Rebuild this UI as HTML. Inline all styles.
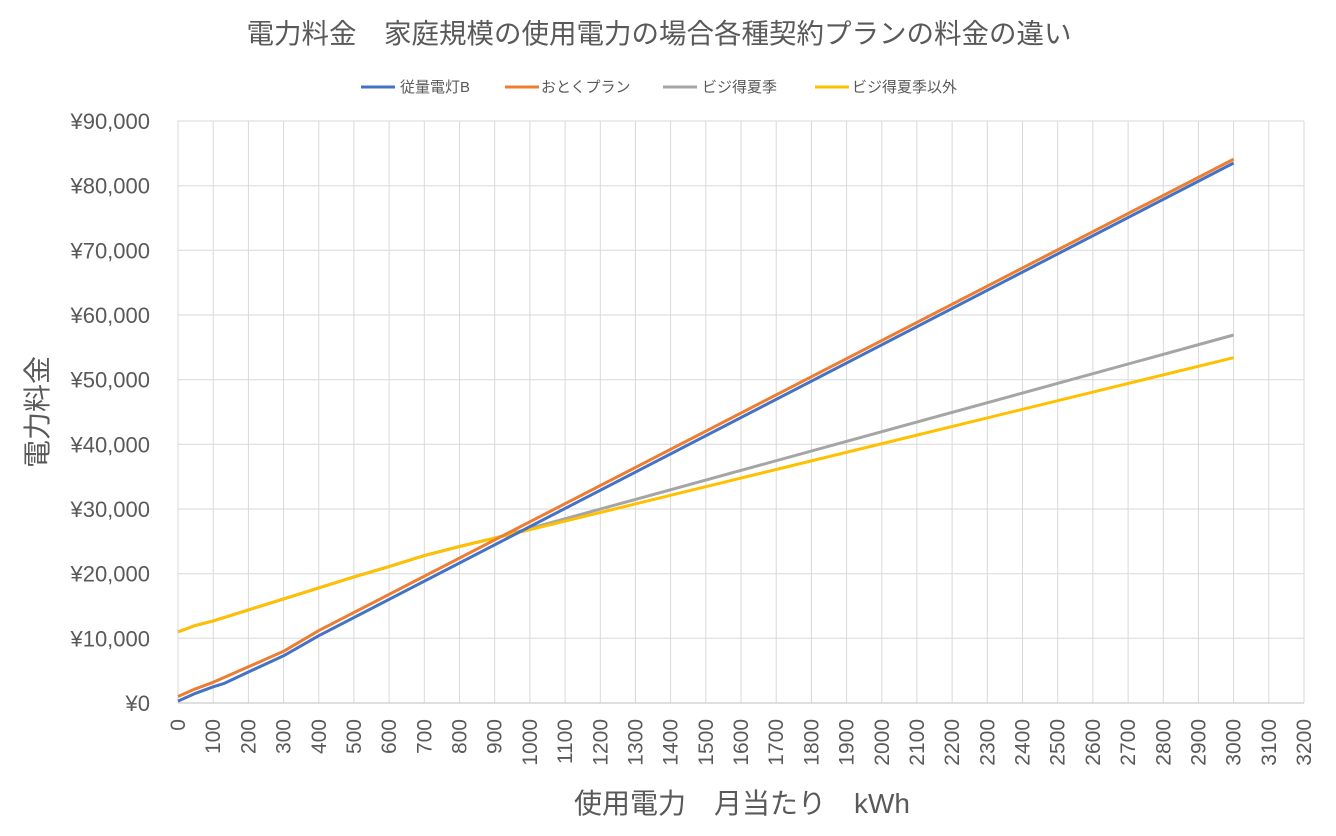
<!DOCTYPE html>
<html><head><meta charset="utf-8"><style>
html,body{margin:0;padding:0;background:#fff;}
svg text{font-family:"Liberation Sans","Noto Sans CJK JP",sans-serif;fill:#595959;}
</style></head><body>
<svg width="1336" height="831" xmlns="http://www.w3.org/2000/svg">
<text x="659" y="43" font-size="27.5" text-anchor="middle">電力料金　家庭規模の使用電力の場合各種契約プランの料金の違い</text>
<g font-size="15">
<line x1="361" y1="87" x2="395" y2="87" stroke="#4472C4" stroke-width="3"/><text x="400" y="92">従量電灯B</text>
<line x1="505" y1="87" x2="539" y2="87" stroke="#ED7D31" stroke-width="3"/><text x="541" y="92">おとくプラン</text>
<line x1="663" y1="87" x2="697" y2="87" stroke="#A5A5A5" stroke-width="3"/><text x="702" y="92">ビジ得夏季</text>
<line x1="815" y1="87" x2="849" y2="87" stroke="#FFC000" stroke-width="3"/><text x="852" y="92">ビジ得夏季以外</text>
</g>
<g stroke="#d9d9d9" stroke-width="1">
<line x1="178" y1="121" x2="178" y2="703"/><line x1="213.2" y1="121" x2="213.2" y2="703"/><line x1="248.4" y1="121" x2="248.4" y2="703"/><line x1="283.6" y1="121" x2="283.6" y2="703"/><line x1="318.8" y1="121" x2="318.8" y2="703"/><line x1="353.9" y1="121" x2="353.9" y2="703"/><line x1="389.1" y1="121" x2="389.1" y2="703"/><line x1="424.3" y1="121" x2="424.3" y2="703"/><line x1="459.5" y1="121" x2="459.5" y2="703"/><line x1="494.7" y1="121" x2="494.7" y2="703"/><line x1="529.9" y1="121" x2="529.9" y2="703"/><line x1="565.1" y1="121" x2="565.1" y2="703"/><line x1="600.3" y1="121" x2="600.3" y2="703"/><line x1="635.4" y1="121" x2="635.4" y2="703"/><line x1="670.6" y1="121" x2="670.6" y2="703"/><line x1="705.8" y1="121" x2="705.8" y2="703"/><line x1="741" y1="121" x2="741" y2="703"/><line x1="776.2" y1="121" x2="776.2" y2="703"/><line x1="811.4" y1="121" x2="811.4" y2="703"/><line x1="846.6" y1="121" x2="846.6" y2="703"/><line x1="881.8" y1="121" x2="881.8" y2="703"/><line x1="916.9" y1="121" x2="916.9" y2="703"/><line x1="952.1" y1="121" x2="952.1" y2="703"/><line x1="987.3" y1="121" x2="987.3" y2="703"/><line x1="1022.5" y1="121" x2="1022.5" y2="703"/><line x1="1057.7" y1="121" x2="1057.7" y2="703"/><line x1="1092.9" y1="121" x2="1092.9" y2="703"/><line x1="1128.1" y1="121" x2="1128.1" y2="703"/><line x1="1163.3" y1="121" x2="1163.3" y2="703"/><line x1="1198.4" y1="121" x2="1198.4" y2="703"/><line x1="1233.6" y1="121" x2="1233.6" y2="703"/><line x1="1268.8" y1="121" x2="1268.8" y2="703"/><line x1="1304" y1="121" x2="1304" y2="703"/>
<line x1="178" y1="121" x2="1304" y2="121"/><line x1="178" y1="185.7" x2="1304" y2="185.7"/><line x1="178" y1="250.3" x2="1304" y2="250.3"/><line x1="178" y1="315" x2="1304" y2="315"/><line x1="178" y1="379.7" x2="1304" y2="379.7"/><line x1="178" y1="444.3" x2="1304" y2="444.3"/><line x1="178" y1="509" x2="1304" y2="509"/><line x1="178" y1="573.7" x2="1304" y2="573.7"/><line x1="178" y1="638.3" x2="1304" y2="638.3"/>
<line x1="178" y1="703" x2="1304" y2="703" stroke="#bfbfbf"/>
</g>
<g font-size="22" text-anchor="end">
<text x="150" y="129">¥90,000</text><text x="150" y="193.7">¥80,000</text><text x="150" y="258.3">¥70,000</text><text x="150" y="323">¥60,000</text><text x="150" y="387.7">¥50,000</text><text x="150" y="452.3">¥40,000</text><text x="150" y="517">¥30,000</text><text x="150" y="581.7">¥20,000</text><text x="150" y="646.3">¥10,000</text><text x="150" y="711">¥0</text>
</g>
<g font-size="21" text-anchor="end">
<text transform="translate(185,719) rotate(-90)">0</text>
<text transform="translate(220.2,719) rotate(-90)">100</text>
<text transform="translate(255.4,719) rotate(-90)">200</text>
<text transform="translate(290.6,719) rotate(-90)">300</text>
<text transform="translate(325.8,719) rotate(-90)">400</text>
<text transform="translate(360.9,719) rotate(-90)">500</text>
<text transform="translate(396.1,719) rotate(-90)">600</text>
<text transform="translate(431.3,719) rotate(-90)">700</text>
<text transform="translate(466.5,719) rotate(-90)">800</text>
<text transform="translate(501.7,719) rotate(-90)">900</text>
<text transform="translate(536.9,719) rotate(-90)">1000</text>
<text transform="translate(572.1,719) rotate(-90)">1100</text>
<text transform="translate(607.3,719) rotate(-90)">1200</text>
<text transform="translate(642.4,719) rotate(-90)">1300</text>
<text transform="translate(677.6,719) rotate(-90)">1400</text>
<text transform="translate(712.8,719) rotate(-90)">1500</text>
<text transform="translate(748,719) rotate(-90)">1600</text>
<text transform="translate(783.2,719) rotate(-90)">1700</text>
<text transform="translate(818.4,719) rotate(-90)">1800</text>
<text transform="translate(853.6,719) rotate(-90)">1900</text>
<text transform="translate(888.8,719) rotate(-90)">2000</text>
<text transform="translate(923.9,719) rotate(-90)">2100</text>
<text transform="translate(959.1,719) rotate(-90)">2200</text>
<text transform="translate(994.3,719) rotate(-90)">2300</text>
<text transform="translate(1029.5,719) rotate(-90)">2400</text>
<text transform="translate(1064.7,719) rotate(-90)">2500</text>
<text transform="translate(1099.9,719) rotate(-90)">2600</text>
<text transform="translate(1135.1,719) rotate(-90)">2700</text>
<text transform="translate(1170.3,719) rotate(-90)">2800</text>
<text transform="translate(1205.4,719) rotate(-90)">2900</text>
<text transform="translate(1240.6,719) rotate(-90)">3000</text>
<text transform="translate(1275.8,719) rotate(-90)">3100</text>
<text transform="translate(1311,719) rotate(-90)">3200</text>
</g>
<g fill="none" stroke-width="3" stroke-linejoin="round">
<polyline stroke="#A5A5A5" points="178,631.9 195.6,625.4 213.2,620.9 248.4,609.9 283.6,598.9 318.8,587.9 353.9,576.9 389.1,566.6 424.3,555.6 459.5,546.5 494.7,538.1 1233.6,335"/>
<polyline stroke="#FFC000" points="178,631.9 195.6,625.4 213.2,620.9 248.4,609.9 283.6,598.9 318.8,587.9 353.9,576.9 389.1,566.6 424.3,555.6 459.5,546.5 494.7,538.1 529.9,529.7 1233.6,357.7"/>
<polyline stroke="#ED7D31" points="178,696.5 195.6,688.8 213.2,682.3 248.4,666.8 283.6,651.3 318.8,630.6 1233.6,159.2"/>
<polyline stroke="#4472C4" points="178,701.1 195.6,693.3 213.2,686.8 223.7,683.6 248.4,672 283.6,655.8 318.8,635.7 1233.6,163"/>
</g>
<text x="742" y="813" font-size="28" text-anchor="middle">使用電力　月当たり　kWh</text>
<text transform="translate(47,412) rotate(-90)" font-size="28" text-anchor="middle">電力料金</text>
</svg>
</body></html>
